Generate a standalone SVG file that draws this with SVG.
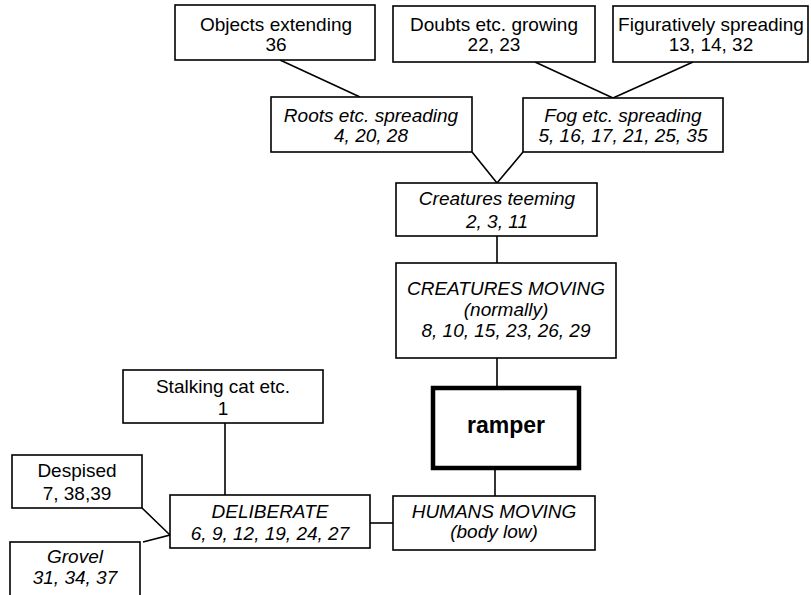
<svg xmlns="http://www.w3.org/2000/svg" width="811" height="595" viewBox="0 0 811 595">
<style>
  .box { fill: #ffffff; stroke: #000000; stroke-width: 1.6; }
  .main { fill: #ffffff; stroke: #000000; stroke-width: 4.5; }
  .edge { fill: none; stroke: #000000; stroke-width: 1.6; }
  text { font-family: "Liberation Sans", Arial, sans-serif; font-size: 19px; fill: #000000; text-anchor: middle; }
  .it { font-style: italic; }
  .bold { font-weight: bold; font-size: 23px; }
</style>
<rect x="0" y="0" width="811" height="595" fill="#ffffff"/>
<g id="connectors">
  <line class="edge" x1="280" y1="60" x2="360" y2="97"/>
  <line class="edge" x1="535" y1="62" x2="613" y2="98"/>
  <line class="edge" x1="693" y1="62" x2="613" y2="98"/>
  <polyline class="edge" points="472,152 497,183 523,152"/>
  <line class="edge" x1="497" y1="236" x2="497" y2="263"/>
  <line class="edge" x1="497" y1="358" x2="497" y2="387"/>
  <line class="edge" x1="495" y1="469" x2="495" y2="496"/>
  <line class="edge" x1="370" y1="523" x2="393" y2="523"/>
  <line class="edge" x1="225" y1="423" x2="225" y2="495"/>
  <polyline class="edge" points="142,508 170,535 143,542"/>
</g>
<g id="objects-extending">
  <rect class="box" x="175" y="5" width="200" height="55"/>
  <text x="276" y="31">Objects extending</text>
  <text x="276" y="51">36</text>
</g>
<g id="doubts-growing">
  <rect class="box" x="393" y="6" width="202" height="56"/>
  <text x="494" y="31">Doubts etc. growing</text>
  <text x="494" y="51">22, 23</text>
</g>
<g id="figuratively-spreading">
  <rect class="box" x="613" y="6" width="195" height="56"/>
  <text x="711" y="31">Figuratively spreading</text>
  <text x="711" y="51">13, 14, 32</text>
</g>
<g id="roots-spreading">
  <rect class="box" x="271" y="97" width="201" height="55"/>
  <text class="it" x="371" y="122">Roots etc. spreading</text>
  <text class="it" x="371" y="142">4, 20, 28</text>
</g>
<g id="fog-spreading">
  <rect class="box" x="523" y="98" width="200" height="54"/>
  <text class="it" x="623" y="122">Fog etc. spreading</text>
  <text class="it" x="623" y="142">5, 16, 17, 21, 25, 35</text>
</g>
<g id="creatures-teeming">
  <rect class="box" x="396" y="183" width="201" height="53"/>
  <text class="it" x="497" y="205">Creatures teeming</text>
  <text class="it" x="497" y="228">2, 3, 11</text>
</g>
<g id="creatures-moving">
  <rect class="box" x="396" y="263" width="220" height="95"/>
  <text class="it" x="506" y="295">CREATURES MOVING</text>
  <text class="it" x="506" y="316">(normally)</text>
  <text class="it" x="506" y="337">8, 10, 15, 23, 26, 29</text>
</g>
<g id="ramper">
  <rect class="main" x="433" y="388" width="146" height="80"/>
  <text class="bold" x="506" y="433">ramper</text>
</g>
<g id="humans-moving">
  <rect class="box" x="393" y="496" width="202" height="54"/>
  <text class="it" x="494" y="518">HUMANS MOVING</text>
  <text class="it" x="494" y="538">(body low)</text>
</g>
<g id="stalking-cat">
  <rect class="box" x="123" y="370" width="200" height="53"/>
  <text x="223" y="393">Stalking cat etc.</text>
  <text x="223" y="415">1</text>
</g>
<g id="deliberate">
  <rect class="box" x="170" y="495" width="200" height="53"/>
  <text class="it" x="270" y="518">DELIBERATE</text>
  <text class="it" x="270" y="540">6, 9, 12, 19, 24, 27</text>
</g>
<g id="despised">
  <rect class="box" x="12" y="455" width="130" height="53"/>
  <text x="77" y="477">Despised</text>
  <text x="77" y="500">7, 38,39</text>
</g>
<g id="grovel">
  <rect class="box" x="10" y="542" width="130" height="60"/>
  <text class="it" x="75" y="563">Grovel</text>
  <text class="it" x="75" y="584">31, 34, 37</text>
</g>
</svg>
